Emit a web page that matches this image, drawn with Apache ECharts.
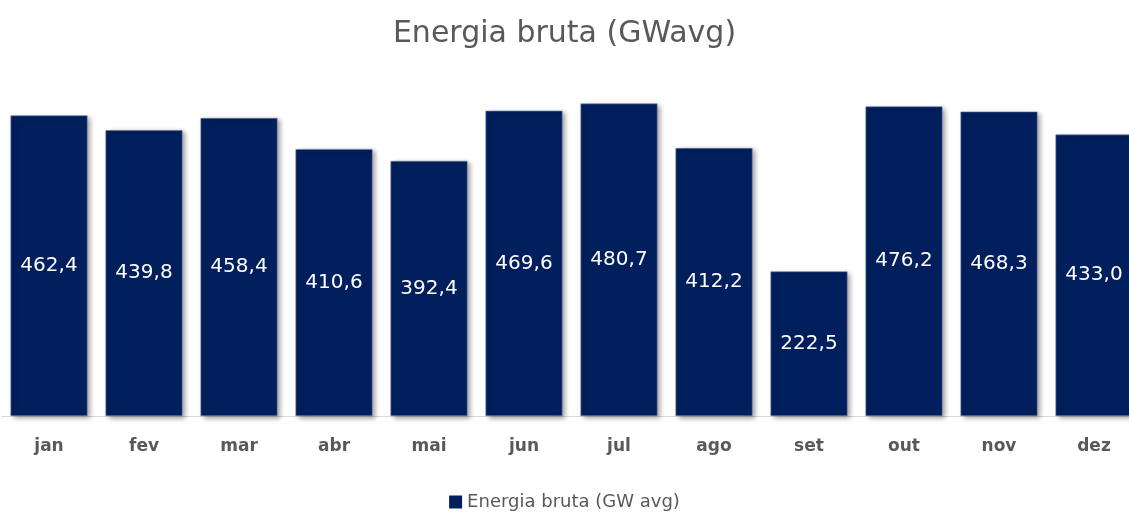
<!DOCTYPE html>
<html><head><meta charset="utf-8">
<script src="https://cdn.jsdelivr.net/npm/echarts@6/dist/echarts.min.js"></script>
<style>html,body{margin:0;padding:0;background:#fff}#c{width:1129px;height:516px}</style>
</head><body><div id="c"></div>
<script>
const categories = ['jan','fev','mar','abr','mai','jun','jul','ago','set','out','nov','dez'];
const values = [462.4, 439.8, 458.4, 410.6, 392.4, 469.6, 480.7, 412.2, 222.5, 476.2, 468.3, 433.0];
const seriesName = 'Energia bruta (GW avg)';
const titleText = 'Energia bruta (GWavg)';

const chart = echarts.init(document.getElementById('c'), null, {renderer:'canvas'});
chart.setOption({
  animation:false,
  title:{text:titleText,left:'center',top:14,textStyle:{fontFamily:'DejaVu Sans',fontSize:30,fontWeight:'normal',color:'#595959'}},
  legend:{data:[seriesName],bottom:0,left:'center',itemWidth:13,itemHeight:13,icon:'rect',itemGap:8,
    itemStyle:{borderWidth:0,shadowBlur:0,shadowOffsetX:0,shadowOffsetY:0},
    textStyle:{fontFamily:'DejaVu Sans',fontSize:18,color:'#595959'}},
  grid:{left:1.5,width:1140,top:91,bottom:100,containLabel:false,outerBoundsMode:'none'},
  xAxis:{type:'category',data:categories,
    axisLine:{lineStyle:{color:'#d9d9d9',width:1}},axisTick:{show:false},
    axisLabel:{fontFamily:'DejaVu Sans',fontSize:17,color:'#595959',fontWeight:'bold',margin:22}},
  yAxis:{type:'value',min:0,max:500,show:false,splitLine:{show:false}},
  series:[{name:seriesName,type:'bar',data:values,barCategoryGap:'19%',
    itemStyle:{color:'#001F5C',borderColor:'#6a7fa8',borderWidth:0.6,
      shadowColor:'rgba(0,0,0,0.4)',shadowBlur:5,shadowOffsetX:3,shadowOffsetY:2},
    label:{show:true,position:'inside',color:'#ffffff',fontFamily:'DejaVu Sans',fontSize:20,
      formatter:p=>p.value.toFixed(1).replace('.',',')}}]
});
</script></body></html>
